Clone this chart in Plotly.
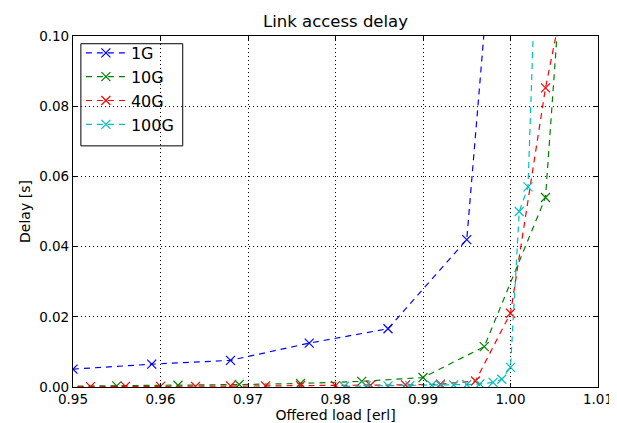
import plotly.graph_objects as go

# offered load (x) and delay (y) per link speed
load_1g = [0.950, 0.959, 0.968, 0.977, 0.986, 0.995, 1.004]
delay_1g = [0.0051, 0.0065, 0.0076, 0.0125, 0.0166, 0.0420, 0.31]

load_10g = [0.948, 0.955, 0.962, 0.969, 0.976, 0.983, 0.990, 0.997, 1.004, 1.011]
delay_10g = [0.0002, 0.0003, 0.0005, 0.0007, 0.0010, 0.0016, 0.0027, 0.0115, 0.0540, 0.30]

load_40g = [0.948, 0.952, 0.956, 0.960, 0.964, 0.968, 0.972, 0.976, 0.980, 0.984,
            0.988, 0.992, 0.996, 1.000, 1.004, 1.008]
delay_40g = [0.0001, 0.0001, 0.0002, 0.0002, 0.0002, 0.0003, 0.0003, 0.0004, 0.0004, 0.0005,
             0.0006, 0.0008, 0.0017, 0.0210, 0.0852, 0.135]

load_100g = [0.981, 0.9835, 0.986, 0.9885, 0.991, 0.992, 0.9935, 0.995, 0.9965, 0.998,
             0.999, 1.000, 1.001, 1.002, 1.003]
delay_100g = [0.0002, 0.0003, 0.0003, 0.0004, 0.0005, 0.0005, 0.0006, 0.0007, 0.0009, 0.0013,
              0.0022, 0.0056, 0.0500, 0.0570, 0.13]

series = [
    ("1G", load_1g, delay_1g, "rgb(0,0,255)"),
    ("10G", load_10g, delay_10g, "rgb(0,128,0)"),
    ("40G", load_40g, delay_40g, "rgb(255,0,0)"),
    ("100G", load_100g, delay_100g, "rgb(0,191,191)"),
]

fig = go.Figure()
for name, xs, ys, color in series:
    fig.add_trace(go.Scatter(
        x=xs, y=ys, name=name,
        mode="lines+markers",
        line=dict(color=color, width=1.2, dash="6px,5px"),
        marker=dict(symbol="x-thin", size=9, line=dict(color=color, width=1.2)),
    ))

axis_style = dict(
    showgrid=True, gridcolor="black", griddash="1px,3px", gridwidth=1,
    showline=True, linecolor="black", linewidth=1.2, mirror="ticks",
    ticks="inside", ticklen=4, tickcolor="black",
    zeroline=False,
    tickfont=dict(size=13.5, color="black"),
)

# legend frame drawn as a shape so the entries can sit tighter to the top edge
fig.add_shape(type="rect", xref="paper", yref="paper",
              x0=0.015, x1=0.209, y0=0.687, y1=0.978,
              line=dict(color="black", width=1), fillcolor="white", layer="below")

fig.update_layout(
    width=617, height=423,
    paper_bgcolor="white", plot_bgcolor="white",
    font=dict(family="DejaVu Sans", color="black"),
    margin=dict(l=65, r=17, t=28, b=37),
    title=dict(text="Link access delay", x=0.5, xref="paper", y=1 - 13 / 423,
               yanchor="middle", font=dict(size=16.5)),
    xaxis=dict(range=[0.95, 1.01], dtick=0.01, tickformat=".2f",
               title=dict(text="Offered load [erl]", font=dict(size=14), standoff=2),
               **axis_style),
    yaxis=dict(range=[0, 0.1], dtick=0.02, tickformat=".2f",
               title=dict(text="Delay [s]", font=dict(size=14), standoff=5),
               **axis_style),
    legend=dict(x=0.015, y=1.0, xanchor="left", yanchor="top",
                borderwidth=0, bgcolor="rgba(0,0,0,0)",
                font=dict(size=16), itemwidth=40, tracegroupgap=0),
    showlegend=True,
)

fig.write_html("out.html")
